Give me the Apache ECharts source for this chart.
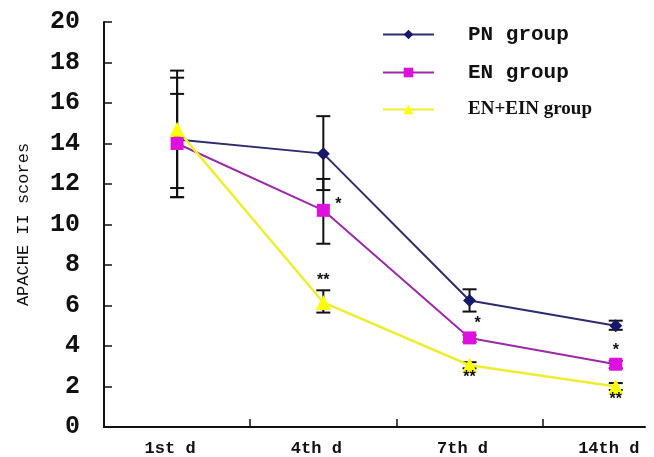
<!DOCTYPE html>
<html><head><meta charset="utf-8">
<script src="https://cdn.jsdelivr.net/npm/echarts@6/dist/echarts.min.js"></script>
<style>html,body{margin:0;padding:0;background:#fff}#c{width:654px;height:457px}</style>
</head><body><div id="c"></div>
<script>
const categories = ['1st d', '4th d', '7th d', '14th d'];
const seriesNames = ['PN group', 'EN group', 'EN+EIN group'];
const pnValues = [14.2, 13.5, 6.25, 5.0];
const enValues = [14.0, 10.7, 4.4, 3.1];
const eneinValues = [14.7, 6.15, 3.05, 2.0];
const pnErrLow = [11.35, 11.7, 5.7, 4.8];
const pnErrHigh = [17.6, 15.35, 6.8, 5.25];
const enErrLow = [11.35, 9.05, 4.2, 2.9];
const enErrHigh = [16.45, 12.25, 4.55, 3.27];
const eneinErrLow = [11.8, 5.65, 2.9, 1.83];
const eneinErrHigh = [17.25, 6.75, 3.2, 2.17];
const enSig = ['', '*', '*', '*'];
const eneinSig = ['', '**', '**', '**'];
const yMin = 0, yMax = 20, yStep = 2;
const yAxisTitle = 'APACHE II scores';

const colors = {
  pnLine: '#2c2c6e', pnMark: '#18186a',
  enLine: '#9a2aa6', enMark: '#dd10dd',
  eneinLine: '#eeee30', eneinMark: '#ffff00'
};

function errData(low, high) {
  return categories.map((c, i) => [i, low[i], high[i]]);
}
const allErr = [].concat(errData(pnErrLow, pnErrHigh), errData(enErrLow, enErrHigh), errData(eneinErrLow, eneinErrHigh));

// offsets (px) for significance marks, per series / category index
const enSigOffset = [[0, 0], [15, -6], [8, -14], [0, -14]];
const eneinSigOffset = [[0, 0], [0, -22], [0, 12], [0, 13]];
const sigData = [];
categories.forEach((c, i) => {
  if (enSig[i]) sigData.push([i, enValues[i], enSig[i], enSigOffset[i][0], enSigOffset[i][1]]);
  if (eneinSig[i]) sigData.push([i, eneinValues[i], eneinSig[i], eneinSigOffset[i][0], eneinSigOffset[i][1]]);
});

const chart = echarts.init(document.getElementById('c'), null, {renderer: 'canvas'});
chart.setOption({
  animation: false,
  backgroundColor: '#fff',
  grid: {left: 104, right: 9, top: 22, bottom: 30},
  legend: {
    data: seriesNames,
    orient: 'vertical',
    left: 377, top: 19,
    itemWidth: 51, itemHeight: 12, itemGap: 17,
    formatter: n => n === 'EN+EIN group' ? '{b|' + n + '}' : '{a|' + n + '}',
    textStyle: {
      padding: [0, 0, 0, 29],
      rich: {
        a: {fontFamily: 'Liberation Mono', fontWeight: 'bold', fontSize: 21, color: '#111'},
        b: {fontFamily: 'Liberation Serif', fontWeight: 'bold', fontSize: 19, color: '#111'}
      }
    }
  },
  xAxis: {
    type: 'value', min: -0.5, max: 3.2,
    splitLine: {show: false},
    axisLine: {show: true, onZero: false, lineStyle: {color: '#111', width: 2}},
    axisTick: {show: true, inside: true, length: 8, customValues: [0.5, 1.5, 2.5], lineStyle: {color: '#111', width: 1.5}},
    axisLabel: {
      customValues: categories.map((c, i) => i),
      formatter: v => categories[Math.round(v)],
      fontFamily: 'Liberation Mono', fontWeight: 'bold', fontSize: 17, color: '#111',
      margin: 13, padding: [0, 14, 0, 0]
    }
  },
  yAxis: {
    type: 'value', min: yMin, max: yMax, interval: yStep,
    name: yAxisTitle, nameLocation: 'middle', nameGap: 72,
    nameTextStyle: {fontFamily: 'Liberation Mono', fontSize: 17, color: '#111'},
    splitLine: {show: false},
    axisLine: {show: true, onZero: false, lineStyle: {color: '#111', width: 2}},
    axisTick: {show: true, inside: true, length: 8, lineStyle: {color: '#111', width: 1.5}},
    axisLabel: {fontFamily: 'Liberation Mono', fontWeight: 'bold', fontSize: 25, color: '#111', margin: 24}
  },
  series: [
    {
      type: 'custom', name: 'err', z: 1, silent: true,
      data: allErr,
      renderItem: (params, api) => {
        const x = api.value(0);
        const lo = api.coord([x, api.value(1)]);
        const hi = api.coord([x, api.value(2)]);
        const w = 7;
        const st = {stroke: '#111', lineWidth: 2};
        return {type: 'group', children: [
          {type: 'line', shape: {x1: lo[0], y1: lo[1], x2: hi[0], y2: hi[1]}, style: st},
          {type: 'line', shape: {x1: lo[0] - w, y1: lo[1], x2: lo[0] + w, y2: lo[1]}, style: st},
          {type: 'line', shape: {x1: hi[0] - w, y1: hi[1], x2: hi[0] + w, y2: hi[1]}, style: st}
        ]};
      }
    },
    {
      type: 'line', name: 'PN group', z: 3,
      data: categories.map((c, i) => [i, pnValues[i]]),
      symbol: 'diamond', symbolSize: 13,
      lineStyle: {color: colors.pnLine, width: 2},
      itemStyle: {color: colors.pnMark}
    },
    {
      type: 'line', name: 'EN group', z: 3,
      data: categories.map((c, i) => [i, enValues[i]]),
      symbol: 'rect', symbolSize: 13,
      lineStyle: {color: colors.enLine, width: 2},
      itemStyle: {color: colors.enMark}
    },
    {
      type: 'line', name: 'EN+EIN group', z: 3,
      data: categories.map((c, i) => [i, eneinValues[i]]),
      symbol: 'triangle', symbolSize: 15,
      lineStyle: {color: colors.eneinLine, width: 2.5},
      itemStyle: {color: colors.eneinMark}
    },
    {
      type: 'custom', name: 'sig', z: 5, silent: true,
      data: sigData,
      renderItem: (params, api) => {
        const p = api.coord([api.value(0), api.value(1)]);
        const d = sigData[params.dataIndex];
        return {type: 'text', x: p[0] + d[3], y: p[1] + d[4], style: {
          text: d[2], fill: '#111', font: 'bold 16px Liberation Sans', align: 'center', verticalAlign: 'middle'
        }};
      }
    }
  ]
});
</script></body></html>
